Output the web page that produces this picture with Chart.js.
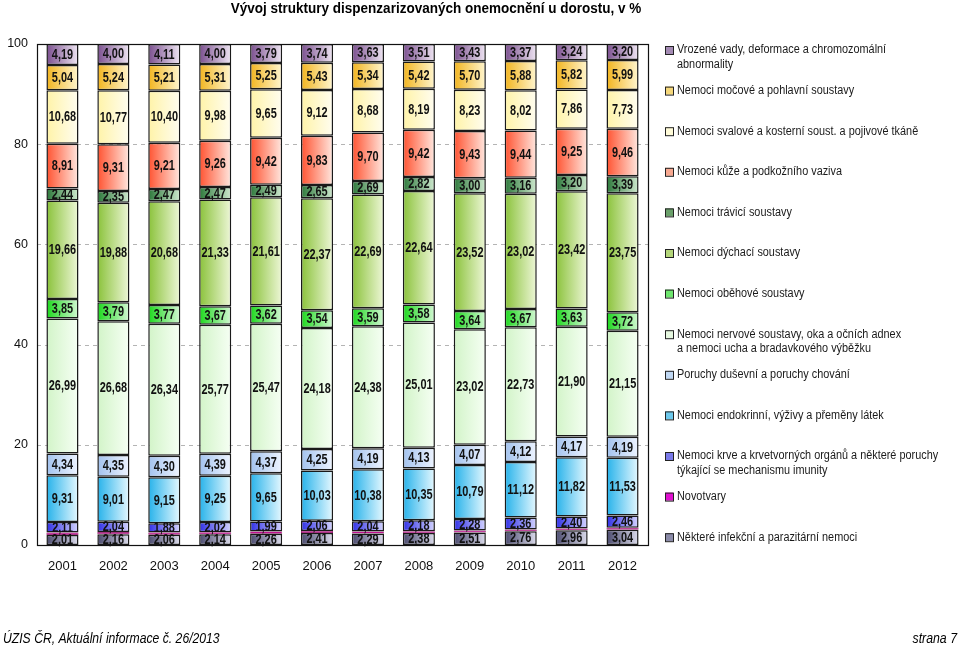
<!DOCTYPE html>
<html><head><meta charset="utf-8">
<script src="https://cdn.jsdelivr.net/npm/chart.js@4.4.1/dist/chart.umd.min.js"></script>
<style>html,body{margin:0;padding:0;background:#fff;}#wrap{position:relative;width:960px;height:648px;}</style>
</head><body><div id="wrap"><canvas id="c" width="960" height="648"></canvas></div>
<script>
// ---- DATA (percentages) ----
const years = ['2001','2002','2003','2004','2005','2006','2007','2008','2009','2010','2011','2012'];
const yTicks = [0,20,40,60,80,100];
const infekcni   = [2.01,2.16,2.06,2.14,2.26,2.41,2.29,2.38,2.51,2.76,2.96,3.04];
const novotvary  = [0.47,0.42,0.42,0.41,0.43,0.39,0.40,0.37,0.38,0.35,0.33,0.39];
const krve       = [2.11,2.04,1.88,2.02,1.99,2.06,2.04,2.18,2.28,2.36,2.40,2.46];
const endokrinni = [9.31,9.01,9.15,9.25,9.65,10.03,10.38,10.35,10.79,11.12,11.82,11.53];
const dusevni    = [4.34,4.35,4.30,4.39,4.37,4.25,4.19,4.13,4.07,4.12,4.17,4.19];
const nervove    = [26.99,26.68,26.34,25.77,25.47,24.18,24.38,25.01,23.02,22.73,21.90,21.15];
const obehove    = [3.85,3.79,3.77,3.67,3.62,3.54,3.59,3.58,3.64,3.67,3.63,3.72];
const dychaci    = [19.66,19.88,20.68,21.33,21.61,22.37,22.69,22.64,23.52,23.02,23.42,23.75];
const traveni    = [2.44,2.35,2.47,2.47,2.49,2.65,2.69,2.82,3.00,3.16,3.20,3.39];
const kuze       = [8.91,9.31,9.21,9.26,9.42,9.83,9.70,9.42,9.43,9.44,9.25,9.46];
const svalove    = [10.68,10.77,10.40,9.98,9.65,9.12,8.68,8.19,8.23,8.02,7.86,7.73];
const mocove     = [5.04,5.24,5.21,5.31,5.25,5.43,5.34,5.42,5.70,5.88,5.82,5.99];
const vrozene    = [4.19,4.00,4.11,4.00,3.79,3.74,3.63,3.51,3.43,3.37,3.24,3.20];

const titleText = 'Vývoj struktury dispenzarizovaných onemocnění u dorostu, v %';
const footLeft = 'ÚZIS ČR, Aktuální informace č. 26/2013';
const footRight = 'strana 7';

// series, bottom to top of the stack
const series = [
  {name:'Některé infekční a parazitární nemoci', data:infekcni, c0:'#4a4a6e', c1:'#dcdcec', leg:'#8a8aa8', lab:true},
  {name:'Novotvary', data:novotvary, c0:'#c01090', c1:'#c01090', leg:'#e010d0', lab:false},
  {name:'Nemoci krve a krvetvorných orgánů a některé poruchy\ntýkající se mechanismu imunity', data:krve, c0:'#3030e6', c1:'#d4d4ff', leg:'#7a7aea', lab:true},
  {name:'Nemoci endokrinní, výživy a přeměny látek', data:endokrinni, c0:'#26b2ea', c1:'#e6f8ff', leg:'#6cc8ec', lab:true},
  {name:'Poruchy duševní a poruchy chování', data:dusevni, c0:'#a2c2ee', c1:'#eef4ff', leg:'#c0d8f4', lab:true},
  {name:'Nemoci nervové soustavy, oka a očních adnex\na nemoci ucha a bradavkového výběžku', data:nervove, c0:'#d2f4c8', c1:'#f6fff4', leg:'#e6f8e0', lab:true},
  {name:'Nemoci oběhové soustavy', data:obehove, c0:'#1cd81c', c1:'#d4f8d4', leg:'#6ee66e', lab:true},
  {name:'Nemoci dýchací soustavy', data:dychaci, c0:'#8ac23a', c1:'#eef7d8', leg:'#b4d67a', lab:true},
  {name:'Nemoci trávicí soustavy', data:traveni, c0:'#2c783a', c1:'#cfe9cf', leg:'#6aa06a', lab:true},
  {name:'Nemoci kůže a podkožního vaziva', data:kuze, c0:'#ff5230', c1:'#ffe8e0', leg:'#f8a890', lab:true},
  {name:'Nemoci svalové a kosterní soust. a pojivové tkáně', data:svalove, c0:'#fff3a8', c1:'#fffdf0', leg:'#fffbd8', lab:true},
  {name:'Nemoci močové a pohlavní soustavy', data:mocove, c0:'#f2b41e', c1:'#fff6d0', leg:'#f5d77a', lab:true},
  {name:'Vrozené vady, deformace a chromozomální\nabnormality', data:vrozene, c0:'#7a4e8e', c1:'#efe6f3', leg:'#a48bb4', lab:true}
];

const BAR_PCT = 0.63;
function gradFill(c0, c1){
  return (ctx) => {
    const chart = ctx.chart, xs = chart.scales && chart.scales.x;
    if (!xs || ctx.type !== 'data' || !chart.chartArea) return c0;
    const cx = xs.getPixelForValue(ctx.dataIndex);
    const w = (xs.width / years.length) * BAR_PCT;
    const g = chart.ctx.createLinearGradient(cx - w/2, 0, cx + w/2, 0);
    g.addColorStop(0, c0); g.addColorStop(1, c1);
    return g;
  };
}

function squeezeText(ctx, text, x, y, font, sx, align, color){
  ctx.save();
  ctx.font = font; ctx.fillStyle = color || '#000';
  ctx.textBaseline = 'middle'; ctx.textAlign = align || 'left';
  ctx.translate(x, y); ctx.scale(sx, 1);
  ctx.fillText(text, 0, 0);
  ctx.restore();
}

const frameAndText = {
  id: 'frameAndText',
  beforeDatasetsDraw(chart){
    // dashed horizontal grid lines at the y ticks (from the y scale)
    const ctx = chart.ctx, a = chart.chartArea, ys = chart.scales.y;
    ctx.save();
    ctx.strokeStyle = '#b4b4b4'; ctx.lineWidth = 1; ctx.setLineDash([4, 4]);
    ys.ticks.forEach(t => {
      if (t.value === 0 || t.value === 100) return;
      const y = Math.round(ys.getPixelForValue(t.value)) + 0.5;
      ctx.beginPath(); ctx.moveTo(a.left, y); ctx.lineTo(a.right, y); ctx.stroke();
    });
    ctx.restore();
  },
  afterDatasetsDraw(chart){
    const ctx = chart.ctx, a = chart.chartArea;
    chart.data.datasets.forEach((ds, di) => {
      if (!series[di].lab) return;
      const meta = chart.getDatasetMeta(di);
      meta.data.forEach((el, i) => {
        const p = el.getProps(['x','y','base'], true);
        const txt = ds.data[i].toFixed(2).replace('.', ',');
        squeezeText(ctx, txt, p.x, (p.y + p.base)/2 + 0.5, 'bold 14px "Liberation Sans", Arial, sans-serif', 0.78, 'center', '#111');
      });
    });
    ctx.save();
    ctx.strokeStyle = '#111'; ctx.lineWidth = 1.2;
    ctx.strokeRect(a.left + 0.5, a.top + 0.5, a.right - a.left, a.bottom - a.top);
    ctx.restore();
  },
  afterDraw(chart){
    const ctx = chart.ctx;
    squeezeText(ctx, titleText, 436, 9, 'bold 15px "Liberation Sans", Arial, sans-serif', 0.9, 'center', '#000');
    const items = series.slice().reverse();
    items.forEach((s, i) => {
      const y = 50 + i * 40.6;
      ctx.save();
      ctx.fillStyle = s.leg; ctx.strokeStyle = '#222'; ctx.lineWidth = 1;
      ctx.fillRect(665, y - 4, 8, 8); ctx.strokeRect(665.5, y - 3.5, 8, 8);
      ctx.restore();
      s.name.split('\n').forEach((line, k) => {
        squeezeText(ctx, line, 677, y + k * 14.5, '12.5px "Liberation Sans", Arial, sans-serif', 0.87, 'left', '#1a1a1a');
      });
    });
    squeezeText(ctx, footLeft, 3, 639, 'italic 14px "Liberation Sans", Arial, sans-serif', 0.87, 'left', '#000');
    squeezeText(ctx, footRight, 957, 639, 'italic 14px "Liberation Sans", Arial, sans-serif', 0.88, 'right', '#000');
  }
};

new Chart(document.getElementById('c'), {
  type: 'bar',
  data: {
    labels: years,
    datasets: series.map(s => ({
      label: s.name.replace('\n', ' '),
      data: s.data,
      backgroundColor: gradFill(s.c0, s.c1),
      borderColor: s.lab ? '#1a1a1a' : '#7a0050',
      borderWidth: s.lab ? 1.5 : 0.6,
      borderSkipped: false,
      barPercentage: BAR_PCT,
      categoryPercentage: 1
    }))
  },
  options: {
    responsive: false,
    animation: false,
    devicePixelRatio: 1,
    layout: { padding: { left: 0, right: 312, top: 44, bottom: 73 } },
    plugins: { legend: { display: false }, tooltip: { enabled: false }, title: { display: false } },
    scales: {
      x: {
        stacked: true,
        grid: { display: false, drawTicks: false },
        border: { display: false },
        ticks: { padding: 14, color: '#111', font: { family: '"Liberation Sans", Arial, sans-serif', size: 13 } },
        afterFit: (s) => { s.height = 30; }
      },
      y: {
        stacked: true,
        min: 0, max: 100,
        afterBuildTicks: (s) => { s.ticks = yTicks.map(v => ({ value: v })); },
        grid: { display: false, drawTicks: false },
        border: { display: false },
        ticks: { padding: 9, color: '#111', font: { family: '"Liberation Sans", Arial, sans-serif', size: 12.5 } },
        afterFit: (s) => { s.width = 37; }
      }
    }
  },
  plugins: [frameAndText]
});
</script>
</body></html>
